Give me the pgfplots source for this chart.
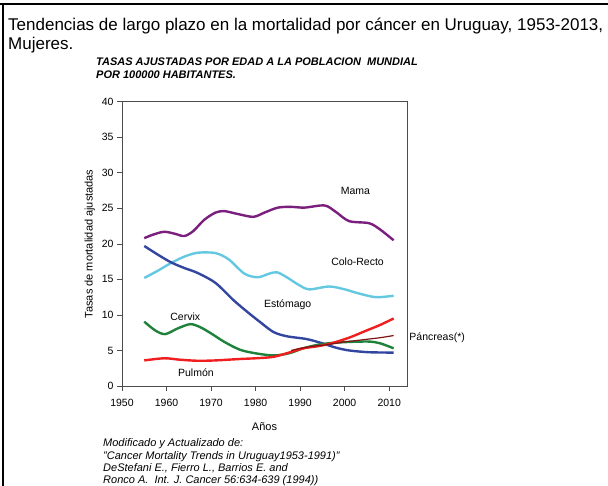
\documentclass[border=0pt]{standalone}
\usepackage{pgfplots}
\pgfplotsset{compat=1.18}
\usepackage{fontspec}
\setmainfont{Liberation Sans}
\definecolor{cmama}{RGB}{122,31,125}
\definecolor{ccolo}{RGB}{100,200,225}
\definecolor{cesto}{RGB}{50,70,160}
\definecolor{ccerv}{RGB}{30,130,60}
\definecolor{cpulm}{RGB}{240,30,30}
\definecolor{cpanc}{RGB}{128,20,20}
\begin{document}
\begin{tikzpicture}
\path[use as bounding box] (0pt,0pt) rectangle (608pt,-486pt);
\draw[line width=1.6pt] (0pt,-4pt) -- (608pt,-4pt);
\draw[line width=1.6pt] (3pt,-4pt) -- (3pt,-486pt);
\node[anchor=base west,font=\fontsize{17}{20}\selectfont,inner sep=0pt] at (8pt,-31pt) {Tendencias de largo plazo en la mortalidad por cáncer en Uruguay, 1953-2013,};
\node[anchor=base west,font=\fontsize{17}{20}\selectfont,inner sep=0pt] at (8pt,-50pt) {Mujeres.};
\node[anchor=base west,font=\fontsize{11}{12}\selectfont\bfseries\itshape,inner sep=0pt] at (96pt,-66pt) {TASAS AJUSTADAS POR EDAD A LA POBLACION\ \ MUNDIAL};
\node[anchor=base west,font=\fontsize{11}{12}\selectfont\bfseries\itshape,inner sep=0pt] at (96pt,-79pt) {POR 100000 HABITANTES.};
\begin{axis}[
  at={(122pt,-386pt)}, anchor=south west,
  scale only axis, width=285pt, height=284.3pt,
  xmin=1950, xmax=2014, ymin=0, ymax=40,
  xtick={1950,1960,...,2010}, ytick={0,5,...,40},
  axis line style={gray!60!black, line width=0.6pt},
  tick style={gray!60!black, line width=0.6pt},
  tick align=outside, tick pos=left,
  major tick length=5pt,
  xticklabel style={font=\fontsize{10.5}{12}\selectfont, yshift=-5pt},
  yticklabel style={font=\fontsize{10.5}{12}\selectfont},
  /pgf/number format/assume math mode=true,
  /pgf/number format/1000 sep={},
  xlabel={Años}, ylabel={Tasas de mortalidad ajustadas},
  label style={font=\fontsize{11}{12}\selectfont},
  xlabel style={yshift=-9pt},
  clip=false,
]
\addplot[cmama, line width=2.4pt, smooth, tension=0.5] coordinates {
(1955,20.8)(1957,21.3)(1959.5,21.7)(1962,21.4)(1964,21.1)(1966,21.8)(1968.5,23.4)(1971,24.4)(1973,24.6)(1976,24.2)(1979.5,23.8)(1982,24.4)(1985,25.1)(1988,25.2)(1991,25.1)(1995.5,25.4)(1998,24.5)(2001,23.2)(2005.5,22.9)(2008,22.0)(2011,20.5)};
\addplot[ccolo, line width=2.4pt, smooth, tension=0.5] coordinates {
(1955,15.2)(1958,16.2)(1961,17.3)(1964,18.2)(1967,18.75)(1971,18.7)(1974,17.8)(1977.5,15.8)(1980.5,15.3)(1983,15.8)(1984.8,16.0)(1987,15.3)(1989.5,14.3)(1992,13.6)(1996.5,14.0)(2000,13.6)(2003,13.05)(2007,12.5)(2011,12.7)};
\addplot[cesto, line width=2.4pt, smooth, tension=0.5] coordinates {
(1955,19.7)(1958,18.5)(1961,17.4)(1964,16.6)(1967,15.9)(1971,14.5)(1975,12.1)(1978,10.5)(1981,9.0)(1984,7.6)(1987,7.0)(1991.5,6.6)(1995,6.0)(1998,5.4)(2001,5.0)(2005.5,4.75)(2011,4.7)};
\addplot[ccerv, line width=2.4pt, smooth, tension=0.5] coordinates {
(1955,9.05)(1957.5,7.8)(1959.7,7.3)(1962.5,8.1)(1965.3,8.7)(1967.5,8.3)(1970,7.4)(1973,6.2)(1976.5,5.1)(1980,4.6)(1984,4.3)(1987.5,4.6)(1990.7,5.3)(1994,5.8)(1997,6.05)(2001,6.2)(2005.5,6.25)(2008,6.0)(2011,5.3)};
\addplot[cpulm, line width=2.4pt, smooth, tension=0.5] coordinates {
(1955,3.6)(1959.5,3.9)(1963,3.7)(1967,3.55)(1971,3.6)(1976.5,3.8)(1980,3.9)(1984,4.1)(1987.5,4.7)(1990.7,5.3)(1994,5.6)(1997,6.0)(2001,6.8)(2004.5,7.7)(2008,8.6)(2011,9.5)};
\addplot[cpanc, line width=1.2pt, smooth, tension=0.5] coordinates {
(1988,5.0)(1990,5.3)(1993,5.6)(1996,5.8)(2000,6.2)(2004,6.5)(2008,6.8)(2011,7.1)};
\node[font=\fontsize{10.5}{12}\selectfont] at (axis cs:2002.4,27.4) {Mama};
\node[font=\fontsize{10.5}{12}\selectfont] at (axis cs:2002.9,17.5) {Colo-Recto};
\node[font=\fontsize{10.5}{12}\selectfont] at (axis cs:1987.2,11.4) {Estómago};
\node[font=\fontsize{10.5}{12}\selectfont] at (axis cs:1964.2,9.76) {Cervix};
\node[font=\fontsize{10.5}{12}\selectfont] at (axis cs:1966.6,1.87) {Pulmón};
\node[font=\fontsize{10.5}{12}\selectfont,anchor=west,inner sep=0pt] at (axis cs:2014.5,6.8) {Páncreas(*)};
\end{axis}
\node[anchor=base west,font=\fontsize{11}{12}\selectfont\itshape,inner sep=0pt] at (103pt,-446pt) {Modificado y Actualizado de:};
\node[anchor=base west,font=\fontsize{11}{12}\selectfont\itshape,inner sep=0pt] at (103pt,-459pt) {"Cancer Mortality Trends in Uruguay1953-1991)"};
\node[anchor=base west,font=\fontsize{11}{12}\selectfont\itshape,inner sep=0pt] at (103pt,-471pt) {DeStefani E., Fierro L., Barrios E. and};
\node[anchor=base west,font=\fontsize{11}{12}\selectfont\itshape,inner sep=0pt] at (103pt,-483.5pt) {Ronco A.\ \ Int. J. Cancer 56:634-639 (1994))};
\end{tikzpicture}
\end{document}
